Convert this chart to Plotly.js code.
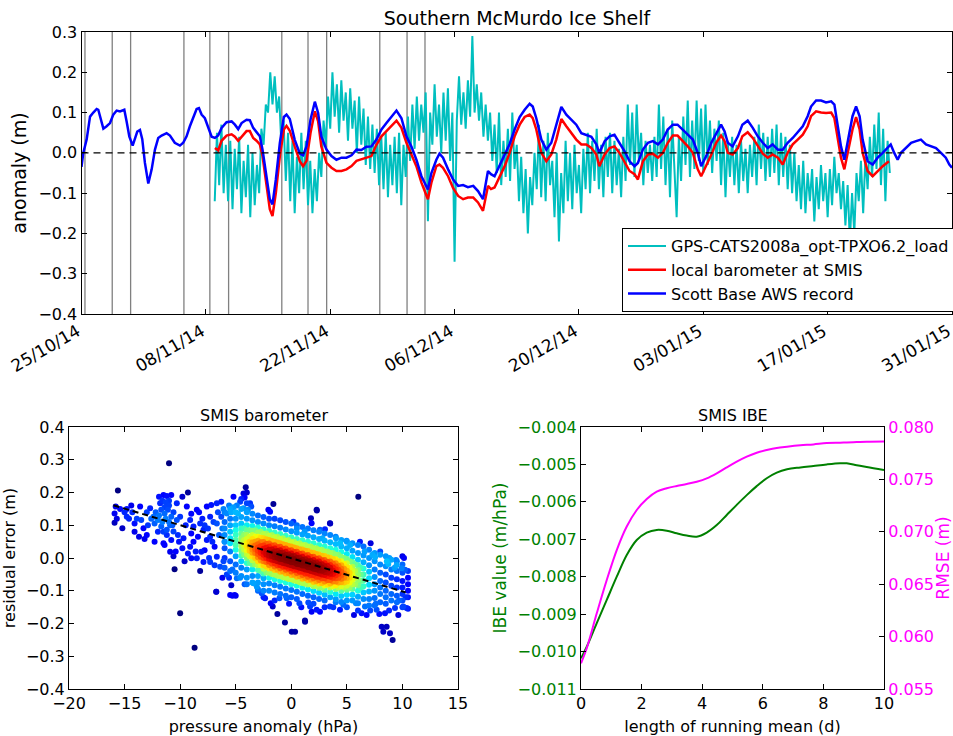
<!DOCTYPE html>
<html><head><meta charset="utf-8">
<script src="https://cdn.plot.ly/plotly-3.0.1.min.js"></script>
<style>html,body{margin:0;padding:0;background:#fff;overflow:hidden;}#chart{width:953px;height:736px;}</style>
</head><body><div id="chart"></div>
<script>
// ---------- top panel data (days after 25/10/2014) ----------
const startMs = Date.UTC(2014, 9, 25);
const dateTickDays = [0, 14, 28, 42, 56, 70, 84, 98];
const eventDays = [0.39, 3.46, 5.53, 11.53, 14.45, 16.56, 22.55, 25.5, 27.6, 33.58, 36.65, 38.67];

const blueDays = [0,0.2,0.58,0.96,1.33,1.71,1.89,2.16,2.46,2.83,3.21,3.58,3.96,4.33,4.82,5.08,5.38,5.76,6.02,6.28,6.58,6.84,7.14,7.52,7.9,8.27,8.64,9.02,9.58,9.96,10.5,11.08,11.45,11.83,12.2,12.58,12.96,13.22,13.52,13.89,14.26,14.65,15.02,15.39,15.77,16.33,16.9,17.27,17.64,18.02,18.58,18.95,19.33,19.7,20.08,20.38,20.83,21.2,21.5,21.88,22.33,22.78,23.08,23.45,24.0,24.58,24.95,25.33,25.78,26.27,26.64,27.0,27.58,28.14,28.7,29.27,29.83,30.4,30.96,31.5,32.08,32.64,33.2,33.77,34.33,34.9,35.46,36.02,36.58,37.14,37.7,38.27,39.0,39.39,39.95,40.3,40.7,41.27,41.83,42.4,42.96,43.5,44.1,44.64,45.2,45.76,46.1,46.5,47.08,47.64,48.2,48.76,49.33,49.89,50.45,50.8,51.2,51.77,52.33,52.89,53.45,54.02,54.58,55.14,55.7,56.27,56.83,57.4,57.96,58.3,58.9,59.45,60.0,60.57,61.14,61.7,62.26,62.64,63.2,63.77,64.32,64.9,65.45,66.0,66.57,67.1,67.7,68.26,68.82,69.38,69.76,70.33,70.9,71.45,72.0,72.4,72.76,73.3,73.9,74.4,75.0,75.57,76.13,76.7,77.26,77.8,78.4,78.94,79.5,80.07,80.63,81.2,81.75,82.13,82.7,83.26,83.82,84.4,84.76,85.13,85.5,85.88,86.25,86.8,87.2,87.6,87.94,88.5,89.07,89.63,90.2,90.75,91.1,91.5,91.88,92.25,92.8,93.4,93.95,94.5,95.07,95.6,96.2,96.76,97.3,97.7,98.0];
const blueVals = [-0.035,0.0,0.033,0.09,0.1,0.109,0.107,0.082,0.06,0.066,0.074,0.095,0.105,0.103,0.107,0.078,0.041,0.018,0.034,0.053,0.057,0.034,-0.025,-0.076,-0.041,0.008,0.037,0.043,0.049,0.043,0.025,0.018,0.025,0.041,0.066,0.089,0.109,0.111,0.095,0.086,0.062,0.04,0.037,0.043,0.062,0.076,0.078,0.07,0.059,0.074,0.082,0.081,0.062,0.053,0.041,0.008,-0.058,-0.115,-0.128,-0.066,0.025,0.089,0.095,0.084,0.033,-0.002,-0.006,0.016,0.082,0.127,0.099,0.041,0.008,-0.008,-0.017,-0.012,-0.012,-0.006,0.008,0.007,0.015,0.016,0.033,0.058,0.074,0.09,0.105,0.086,0.041,0.016,-0.017,-0.058,-0.091,-0.05,-0.017,-0.002,-0.012,-0.041,-0.066,-0.082,-0.08,-0.085,-0.082,-0.095,-0.115,-0.045,-0.053,-0.058,-0.031,-0.008,0.022,0.058,0.089,0.107,0.122,0.115,0.086,0.033,0.008,0.025,0.066,0.114,0.095,0.082,0.07,0.049,0.045,0.04,0.021,0.0,0.029,0.041,0.045,0.025,0.004,-0.021,-0.033,-0.025,0.008,0.025,0.029,0.021,0.033,0.058,0.07,0.07,0.058,0.045,0.033,0.0,-0.033,-0.008,0.025,0.049,0.07,0.053,0.025,0.016,0.041,0.07,0.08,0.062,0.041,0.025,0.012,0.021,0.008,0.008,0.025,0.037,0.051,0.066,0.091,0.115,0.13,0.13,0.125,0.128,0.12,0.066,0.016,-0.017,0.025,0.091,0.115,0.091,0.033,-0.021,-0.029,-0.012,0.0,0.012,0.021,0.0,-0.017,0.0,0.012,0.025,0.029,0.033,0.021,0.016,0.012,0.0,-0.012,-0.029,-0.037];

const redDays = [15.02,15.39,15.77,16.33,16.9,17.27,17.64,18.02,18.58,18.95,19.33,19.7,20.08,20.38,20.83,21.2,21.5,21.88,22.33,22.78,23.08,23.45,24.0,24.58,24.95,25.33,25.78,26.27,26.64,27.0,27.58,28.14,28.7,29.27,29.83,30.4,30.96,31.5,32.08,32.64,33.2,33.77,34.33,34.9,35.46,36.02,36.58,37.14,37.7,38.27,39.0,39.39,39.95,40.3,40.7,41.27,41.83,42.4,42.96,43.5,44.1,44.64,45.2,45.76,46.1,46.5,47.08,47.64,48.2,48.76,49.33,49.89,50.45,50.8,51.2,51.77,52.33,52.89,53.45,54.02,54.58,55.14,55.7,56.27,56.83,57.4,57.96,58.3,58.9,59.45,60.0,60.57,61.14,61.7,62.26,62.64,63.2,63.77,64.32,64.9,65.45,66.0,66.57,67.1,67.7,68.26,68.82,69.38,69.76,70.33,70.9,71.45,72.0,72.4,72.76,73.3,73.9,74.4,75.0,75.57,76.13,76.7,77.26,77.8,78.4,78.94,79.5,80.07,80.63,81.2,81.75,82.13,82.7,83.26,83.82,84.4,84.76,85.13,85.5,85.88,86.25,86.8,87.2,87.6,87.94,88.5,89.07,89.63,90.2,90.9];
const redVals = [0.012,0.006,0.03,0.043,0.046,0.04,0.03,0.04,0.054,0.054,0.037,0.03,0.021,-0.008,-0.082,-0.14,-0.157,-0.099,-0.008,0.058,0.067,0.055,0.016,-0.021,-0.033,-0.02,0.049,0.103,0.078,0.016,-0.025,-0.037,-0.045,-0.045,-0.041,-0.033,-0.02,-0.016,-0.012,-0.008,0.02,0.041,0.054,0.066,0.08,0.062,0.025,-0.004,-0.033,-0.074,-0.115,-0.074,-0.033,-0.029,-0.037,-0.058,-0.087,-0.107,-0.115,-0.111,-0.111,-0.123,-0.144,-0.082,-0.09,-0.086,-0.058,-0.033,0.0,0.041,0.07,0.089,0.095,0.086,0.058,0.0,-0.021,-0.004,0.033,0.084,0.066,0.049,0.033,0.021,0.021,0.012,-0.004,-0.033,-0.004,0.012,0.016,0.0,-0.021,-0.045,-0.053,-0.066,-0.021,-0.004,-0.002,-0.012,0.0,0.025,0.043,0.043,0.029,0.016,0.0,-0.041,-0.058,-0.033,-0.005,0.025,0.043,0.029,0.0,-0.004,0.012,0.041,0.051,0.037,0.016,-0.002,-0.012,-0.004,-0.012,-0.029,0.0,0.021,0.033,0.045,0.066,0.091,0.103,0.1,0.099,0.1,0.086,0.033,-0.012,-0.041,0.0,0.058,0.089,0.058,0.0,-0.045,-0.058,-0.045,-0.033,-0.021];

// GPS residual, sampled every 6 h from day 15 to day 91
const cyanStartDay = 15, cyanStepDay = 0.25;
const cyanVals = [
-0.12,0.05,-0.08,0.07, -0.10,0.02,-0.12,0.03, -0.14,0.01,-0.09,0.04, -0.15,-0.02,-0.11,0.02, -0.16,0.00,-0.13,-0.03,
-0.10,0.06,0.02,0.12, 0.10,0.20,0.12,0.19, 0.10,0.14,0.02,0.08, -0.07,0.05,-0.12,0.03, -0.15,-0.01,-0.10,0.05,
-0.09,0.03,-0.13,-0.02, -0.15,-0.04,-0.12,0.00, -0.06,0.08,0.02,0.14, 0.06,0.20,0.09,0.17, 0.05,0.18,0.08,0.15,
0.03,0.16,0.06,0.13, 0.00,0.14,0.02,0.11, -0.03,0.09,-0.04,0.07, -0.05,0.06,-0.08,0.04, -0.09,0.05,-0.11,0.02,
-0.08,0.04,-0.10,0.05, -0.13,0.02,-0.06,0.09, -0.02,0.12,0.01,0.14, 0.03,0.12,0.05,0.15, -0.17,0.10,0.02,0.17,
0.04,0.12,0.00,0.15, 0.03,0.16,-0.02,0.10, -0.27,0.08,0.19,0.07, 0.15,0.06,0.18,0.09, 0.29,0.10,0.17,0.08,
0.15,0.04,0.12,0.03, 0.10,-0.02,0.07,-0.05, 0.10,-0.08,0.03,-0.06, 0.06,-0.07,0.10,-0.04, 0.02,-0.12,-0.01,-0.15,
-0.04,-0.20,-0.06,-0.13, 0.00,-0.09,0.07,-0.11, 0.03,-0.12,0.05,-0.08, -0.02,-0.16,0.00,-0.22, -0.05,-0.15,0.03,-0.12,
0.00,-0.14,0.02,-0.10, -0.03,-0.15,0.01,-0.09, 0.05,-0.10,0.03,-0.07, 0.06,-0.09,0.02,-0.11, 0.04,-0.06,0.05,-0.10,
0.03,-0.08,0.01,-0.11, 0.04,-0.07,0.12,-0.03, 0.10,-0.06,0.12,-0.02, 0.05,-0.08,0.03,-0.05, 0.02,-0.07,0.04,-0.06,
0.12,-0.04,0.09,-0.08, 0.06,-0.11,0.08,-0.05, -0.16,0.04,-0.07,0.09, -0.03,0.13,-0.06,0.08, -0.04,0.13,-0.02,0.11,
-0.05,0.12,-0.03,0.08, -0.05,0.06,-0.02,0.08, -0.08,0.05,-0.11,0.03, -0.06,0.04,-0.08,0.02, -0.10,0.03,-0.07,0.01,
-0.10,0.02,-0.06,0.04, -0.08,0.07,-0.04,0.05, -0.07,0.04,-0.06,0.06, -0.05,0.07,-0.08,0.05, -0.06,0.04,-0.09,0.02,
-0.10,0.00,-0.12,-0.03, -0.14,-0.02,-0.15,-0.05, -0.12,-0.04,-0.17,-0.06, -0.14,-0.03,-0.12,-0.05, -0.16,-0.04,-0.13,-0.01,
-0.10,-0.05,-0.14,-0.07, -0.18,-0.08,-0.22,-0.10, -0.20,-0.05,-0.12,-0.02, -0.15,-0.01,-0.09,0.04, -0.06,0.07,-0.04,0.10,
-0.08,0.06,-0.12,0.03, -0.05];

// ---------- bottom-left scatter (pressure anomaly hPa, residual m) ----------
const sparsePts = [
[-15.9,0.136],[-15.8,0.157],[-15.9,0.108],[-15.6,0.206],[-15.2,0.091],[-14.8,0.126],[-14.4,0.16],[-14.3,0.14],[-14.1,0.105],[-14.1,0.08],
[-13.7,0.065],[-13.6,0.157],[-13.3,0.091],[-13.2,0.058],[-13.5,0.116],[-12.7,0.152],[-12.4,0.126],[-12.3,0.105],[-11.9,0.187],[-11.8,0.167],
[-11.5,0.192],[-11.2,0.189],[-10.8,0.192],[-11.7,0.147],[-11.4,0.136],[-11.1,0.147],[-10.8,0.126],[-12.0,0.116],[-11.7,0.096],[-11.2,0.086],
[-10.9,0.1],[-10.6,0.081],[-11.5,0.045],[-10.8,0.055],[-10.2,0.07],[-10.3,0.116],[-10.0,0.126],[-10.3,0.167],[-9.8,0.187],[-9.3,0.2],
[-10.9,0.019],[-10.5,-0.034],[-10.0,-0.169],[-8.7,-0.274],[-11.0,0.289],[-9.4,0.157],[-9.1,0.116],[-8.8,0.096],[-9.0,0.075],[-8.5,0.147],
[-8.2,0.105],[-8.4,0.065],[-7.9,0.086],[-9.3,0.014],[-9.0,-0.001],[-8.5,-0.001],[-9.1,0.034],[-8.1,0.019],[-7.8,0.024],[-7.6,0.055],
[-7.3,0.065],[-6.9,0.034],[-7.6,0.157],[-7.2,0.162],[-6.7,0.167],[-6.3,0.172],[-7.3,0.126],[-6.7,0.105],[-6.3,0.126],[-5.8,0.136],
[-6.7,0.004],[-6.9,-0.022],[-7.3,-0.012],[-6.4,-0.027],[-7.9,-0.012],[-6.75,-0.103],[-5.5,-0.113],[-5.1,-0.113],[-5.4,-0.083],[-4.9,-0.062],
[-5.2,0.187],[-4.1,0.216],[-4.3,0.197],[-4.6,0.172],[-4.0,0.167],[-3.9,0.147],[-3.6,0.157],[-4.3,0.152],[-4.8,0.136],
[-11.6,0.175],[-11.3,0.17],[-11.0,0.175],[-11.4,0.155],[-11.0,0.16],[-11.3,0.12],[-11.0,0.11],[-11.6,0.11],[-11.9,0.13],[-10.6,0.14],
[-10.7,0.1],[-11.2,0.07],[-11.5,0.08],[-12.2,0.14],[-12.6,0.12],[-13.0,0.14],[-14.6,0.12],[-15.0,0.14],[-14.8,0.15],[-15.4,0.15],
[-15.7,0.12],[-13.9,0.12],[-12.9,0.1],[-12.0,0.08],[-11.4,0.04],[-10.4,0.02],[-9.7,0.06],[-9.5,0.1],[-9.0,0.135],[-8.8,0.05],
[-8.6,0.02],[-8.0,0.12],[-8.3,0.14],[-7.8,0.1],[-7.5,0.09],[-7.0,0.11],[-7.1,0.05],[-6.5,0.07],[-6.2,0.09],[-6.0,0.05],
[-6.6,0.14],[-6.1,0.15],[-5.6,0.16],[-5.4,0.14],[-5.2,0.155],[-4.9,0.16],[-4.5,0.18],[-4.2,0.185],[-4.0,0.2],[-8.2,-0.04],
[-9.6,-0.01],[-7.4,0.0],[-6.1,-0.01],[-5.8,-0.05],[-5.6,-0.06],[-6.2,-0.06],[-5.3,-0.035],[-10.6,0.005],[-12.3,0.05],[-13.0,0.07],
[-10.1,0.05],[-9.8,0.03],
[6.03,0.187],[2.28,0.147],[1.77,0.121],[1.83,0.106],[3.48,0.106],[-3.71,0.167],[-1.61,0.165],[-1.91,0.141],[-2.06,0.147],[0.19,0.111],
[2.58,0.086],[3.03,0.088],[4.02,0.06],[4.98,0.053],[6.18,0.05],[7.14,0.045],[7.54,0.002],[8.82,0.0],[9.42,-0.006],[10.14,0.0],
[9.93,-0.031],[10.23,-0.036],[10.08,-0.148],[10.38,-0.153],[9.63,-0.174],[9.12,-0.25],[8.88,-0.23],[8.58,-0.21],[8.28,-0.225],[8.13,-0.21],
[7.92,-0.171],[8.43,-0.169],[6.78,-0.174],[6.33,-0.169],[5.64,-0.174],[4.38,-0.158],[3.78,-0.15],[2.58,-0.164],[2.28,-0.158],[1.83,-0.164],
[1.53,-0.136],[1.23,-0.191],[0.34,-0.225],[0.04,-0.225],[-0.57,-0.197],[-1.25,-0.171],[-1.67,-0.148],[-1.85,-0.138],[-2.36,-0.123],[-2.66,-0.108],
[-3.11,-0.087],[-3.41,-0.077],[-1.07,-0.123],[-0.41,-0.123],[0.73,-0.138],[1.69,-0.148],[3.48,-0.148],[4.68,-0.143],[5.82,-0.138],[6.63,-0.148],
[7.68,-0.158],[9.33,-0.153],[9.48,-0.021],[8.73,-0.018],[-6.75,-0.103],[-5.3,-0.115],[-5.0,-0.115],[1.24,-0.195],[2.3,0.145],[3.5,0.105],
[0.5,0.09],[1.2,0.08],[2.8,0.06],[4.4,0.045],[5.3,0.04],[6.6,0.02],[7.3,0.01],[8.0,0.02],[8.6,-0.01],[9.3,-0.03],
[-2.5,-0.12],[-1.5,-0.13],[-0.2,-0.14],[0.9,-0.15],[2.0,-0.14],[3.0,-0.15],[4.0,-0.135],[5.0,-0.15],[6.0,-0.16],[7.1,-0.16],
[7.6,-0.14],[8.8,-0.16],[9.7,-0.13],[10.3,-0.12],[-3.0,-0.1],[-4.2,-0.08],[-4.6,-0.06]];

// dense core, read as columns of points along the pressure axis
const coreColX = [-6,-5.5,-5,-4.5,-4,-3.5,-3,-2.5,-2,-1.5,-1,-0.5,0,0.5,1,1.5,2,2.5,3,3.5,4,4.5,5,5.5,6,6.5,7,7.5,8,8.5,9,9.5,10,10.5];
const coreColY = [
[0.14,0.11,0.09,0.07,0.05,0.03,0.0,-0.03],
[0.15,0.12,0.10,0.08,0.06,0.045,0.02,-0.01,-0.04],
[0.14,0.12,0.10,0.085,0.07,0.055,0.04,0.025,0.005,-0.02,-0.045],
[0.15,0.125,0.105,0.09,0.075,0.06,0.048,0.036,0.022,0.008,-0.01,-0.03,-0.055],
[0.14,0.12,0.10,0.085,0.07,0.058,0.046,0.035,0.024,0.012,0.0,-0.015,-0.035,-0.06,-0.08],
[0.135,0.115,0.098,0.083,0.07,0.058,0.047,0.036,0.026,0.016,0.005,-0.007,-0.02,-0.035,-0.055,-0.075],
[0.13,0.11,0.093,0.078,0.065,0.053,0.042,0.032,0.022,0.012,0.002,-0.01,-0.022,-0.037,-0.055,-0.075,-0.095],
[0.125,0.105,0.088,0.073,0.06,0.049,0.038,0.028,0.019,0.01,0.0,-0.01,-0.021,-0.033,-0.047,-0.062,-0.08,-0.1],
[0.12,0.1,0.083,0.068,0.055,0.044,0.034,0.025,0.016,0.007,-0.002,-0.011,-0.021,-0.032,-0.045,-0.06,-0.078,-0.1],
[0.12,0.097,0.078,0.063,0.05,0.039,0.029,0.02,0.011,0.002,-0.007,-0.016,-0.026,-0.037,-0.05,-0.065,-0.083,-0.105],
[0.115,0.092,0.073,0.058,0.045,0.034,0.024,0.015,0.006,-0.003,-0.012,-0.021,-0.031,-0.042,-0.055,-0.07,-0.088,-0.11],
[0.11,0.087,0.068,0.053,0.04,0.029,0.019,0.01,0.001,-0.008,-0.017,-0.026,-0.036,-0.047,-0.06,-0.075,-0.093,-0.115],
[0.105,0.082,0.063,0.048,0.035,0.024,0.014,0.005,-0.004,-0.013,-0.022,-0.031,-0.041,-0.052,-0.065,-0.08,-0.098,-0.12],
[0.1,0.077,0.058,0.043,0.03,0.019,0.009,0.0,-0.009,-0.018,-0.027,-0.036,-0.046,-0.057,-0.07,-0.085,-0.103,-0.125],
[0.095,0.072,0.054,0.039,0.026,0.014,0.004,-0.005,-0.014,-0.023,-0.032,-0.042,-0.052,-0.063,-0.076,-0.091,-0.11],
[0.09,0.068,0.05,0.035,0.021,0.009,-0.001,-0.01,-0.019,-0.028,-0.037,-0.047,-0.057,-0.068,-0.081,-0.096,-0.115],
[0.085,0.063,0.045,0.03,0.016,0.004,-0.006,-0.015,-0.024,-0.033,-0.042,-0.052,-0.062,-0.073,-0.086,-0.101,-0.12],
[0.08,0.058,0.04,0.025,0.011,-0.001,-0.011,-0.02,-0.029,-0.038,-0.047,-0.057,-0.067,-0.078,-0.091,-0.106,-0.125],
[0.075,0.053,0.035,0.02,0.006,-0.006,-0.016,-0.025,-0.034,-0.043,-0.052,-0.062,-0.072,-0.084,-0.097,-0.112,-0.13],
[0.07,0.048,0.03,0.015,0.001,-0.011,-0.021,-0.03,-0.039,-0.048,-0.057,-0.067,-0.078,-0.09,-0.104,-0.12],
[0.065,0.043,0.025,0.01,-0.004,-0.016,-0.026,-0.035,-0.044,-0.053,-0.062,-0.072,-0.083,-0.095,-0.11,-0.126],
[0.055,0.035,0.018,0.003,-0.01,-0.022,-0.033,-0.043,-0.053,-0.063,-0.074,-0.086,-0.1,-0.116,-0.134],
[0.05,0.03,0.012,-0.003,-0.016,-0.028,-0.039,-0.05,-0.061,-0.072,-0.084,-0.097,-0.112,-0.13],
[0.045,0.022,0.003,-0.013,-0.027,-0.04,-0.053,-0.066,-0.08,-0.095,-0.112,-0.13],
[0.04,0.015,-0.005,-0.022,-0.037,-0.052,-0.067,-0.083,-0.1,-0.118,-0.138],
[0.035,0.008,-0.013,-0.032,-0.05,-0.068,-0.086,-0.105,-0.125],
[0.025,0.0,-0.022,-0.042,-0.062,-0.082,-0.102,-0.125,-0.145],
[0.015,-0.01,-0.035,-0.058,-0.08,-0.1,-0.122,-0.145],
[0.01,-0.02,-0.045,-0.07,-0.09,-0.11,-0.135],
[0.005,-0.025,-0.05,-0.075,-0.1,-0.12,-0.14],
[-0.005,-0.035,-0.06,-0.085,-0.11,-0.13],
[-0.01,-0.04,-0.065,-0.09,-0.115,-0.135],
[0.005,-0.02,-0.045,-0.07,-0.09,-0.11,-0.13,-0.15],
[-0.04,-0.06,-0.08,-0.1,-0.12,-0.155]];

// inner core, between the columns above, where the points pile up
const innerColX = [-4.25,-3.75,-3.25,-2.75,-2.25,-1.75,-1.25,-0.75,-0.25,0.25,0.75,1.25,1.75,2.25,2.75,3.25,3.75,4.25,4.75,5.25,5.75,6.25];
const innerColY = [
[0.09,0.07,0.055,0.04,0.025,0.01],
[0.085,0.065,0.05,0.037,0.022,0.005,-0.015],
[0.085,0.065,0.05,0.038,0.027,0.015,0.0,-0.02],
[0.08,0.062,0.048,0.036,0.025,0.015,0.004,-0.008,-0.022,-0.04],
[0.075,0.057,0.043,0.031,0.021,0.011,0.0,-0.012,-0.026,-0.044],
[0.07,0.052,0.038,0.026,0.016,0.006,-0.005,-0.017,-0.031,-0.049],
[0.065,0.047,0.033,0.021,0.011,0.001,-0.01,-0.022,-0.036,-0.054],
[0.06,0.042,0.028,0.016,0.006,-0.004,-0.015,-0.027,-0.041,-0.059],
[0.055,0.037,0.023,0.011,0.001,-0.009,-0.02,-0.032,-0.046,-0.064],
[0.05,0.032,0.018,0.006,-0.004,-0.014,-0.025,-0.037,-0.051,-0.069],
[0.045,0.027,0.013,0.001,-0.009,-0.019,-0.03,-0.042,-0.056,-0.074],
[0.04,0.022,0.008,-0.004,-0.014,-0.024,-0.035,-0.047,-0.061,-0.079],
[0.035,0.017,0.003,-0.009,-0.019,-0.029,-0.04,-0.052,-0.066,-0.08],
[0.03,0.012,-0.002,-0.014,-0.024,-0.034,-0.045,-0.057,-0.071,-0.085],
[0.025,0.007,-0.007,-0.019,-0.029,-0.039,-0.05,-0.062,-0.076,-0.09],
[0.02,0.002,-0.012,-0.024,-0.034,-0.044,-0.055,-0.067,-0.081],
[0.015,-0.003,-0.017,-0.029,-0.039,-0.049,-0.06,-0.072,-0.086],
[0.01,-0.01,-0.024,-0.036,-0.048,-0.06,-0.075,-0.09],
[0.0,-0.018,-0.033,-0.047,-0.06,-0.075,-0.09],
[-0.01,-0.03,-0.045,-0.06,-0.075,-0.09],
[-0.02,-0.04,-0.06,-0.08],
[-0.03,-0.05,-0.07,-0.09]];

const fitX = [-16, 10.3];
const fitY = [0.161, -0.105];

// ---------- bottom-right IBE ----------
const meanLenDays = [0,0.19,0.52,0.85,1.18,1.51,1.84,2.17,2.5,2.83,3.16,3.49,3.82,4.15,4.48,4.81,5.14,5.47,5.8,6.13,6.46,6.8,7.24,7.67,8.11,8.55,8.77,9.1,9.43,10];
const ibeVals = [-0.01018,-0.00987,-0.00924,-0.00862,-0.0080,-0.00742,-0.00702,-0.00682,-0.00675,-0.00677,-0.00684,-0.0069,-0.00693,-0.00682,-0.00662,-0.00635,-0.00608,-0.00582,-0.00558,-0.00537,-0.00522,-0.00513,-0.00508,-0.00504,-0.0050,-0.00497,-0.00497,-0.00502,-0.00507,-0.00515];
const rmseVals = [0.05745,0.0589,0.06222,0.0654,0.06826,0.0705,0.07208,0.07313,0.07383,0.07415,0.07437,0.07456,0.07478,0.0751,0.07558,0.07615,0.07669,0.07717,0.07755,0.0778,0.0780,0.07812,0.07825,0.07834,0.07847,0.0785,0.07852,0.07856,0.0786,0.07862];

// matplotlib "jet" colormap
const jetScale = [[0,'rgb(0,0,128)'],[0.11,'rgb(0,0,255)'],[0.125,'rgb(0,0,255)'],[0.34,'rgb(0,219,255)'],[0.35,'rgb(0,230,247)'],[0.375,'rgb(21,255,226)'],[0.64,'rgb(239,255,8)'],[0.65,'rgb(247,246,0)'],[0.66,'rgb(255,236,0)'],[0.89,'rgb(255,19,0)'],[0.91,'rgb(232,0,0)'],[1,'rgb(128,0,0)']];

// ---------- helpers ----------
function dayToDate(d){ return new Date(startMs + d*864e5).toISOString().replace('T',' ').replace('Z',''); }
function dayLabel(d){ const t=new Date(startMs+d*864e5); return String(t.getUTCDate()).padStart(2,'0')+'/'+String(t.getUTCMonth()+1).padStart(2,'0')+'/'+String(t.getUTCFullYear()%100).padStart(2,'0'); }
const cyanDates = cyanVals.map((v,i)=>dayToDate(cyanStartDay + i*cyanStepDay));

let pts = sparsePts.slice();
coreColX.forEach((x,i)=>coreColY[i].forEach(y=>pts.push([x,y])));
innerColX.forEach((x,i)=>innerColY[i].forEach(y=>pts.push([x,y])));
// gaussian KDE for colouring (narrowed Scott bandwidth), densest drawn last
(function(){
  const n = pts.length;
  let mx=0,my=0; pts.forEach(p=>{mx+=p[0];my+=p[1];}); mx/=n; my/=n;
  let sxx=0,syy=0,sxy=0; pts.forEach(p=>{const dx=p[0]-mx,dy=p[1]-my;sxx+=dx*dx;syy+=dy*dy;sxy+=dx*dy;});
  sxx/=(n-1); syy/=(n-1); sxy/=(n-1);
  const f = 0.6*Math.pow(n,-1/6), f2=f*f;
  const a=sxx*f2,b=sxy*f2,c=syy*f2, det=a*c-b*b;
  const ia=c/det, ib=-b/det, ic=a/det;
  pts.forEach(p=>{let s=0; for(const q of pts){const dx=p[0]-q[0],dy=p[1]-q[1]; s+=Math.exp(-0.5*(ia*dx*dx+2*ib*dx*dy+ic*dy*dy));} p[2]=s;});
  pts.sort((u,v)=>u[2]-v[2]);
})();

const font = 'DejaVu Sans, Bitstream Vera Sans, sans-serif';
const traces = [
 {x:cyanDates, y:cyanVals, type:'scatter', mode:'lines', name:'GPS-CATS2008a_opt-TPXO6.2_load', line:{color:'#00BFBF', width:2}, xaxis:'x', yaxis:'y'},
 {x:redDays.map(dayToDate), y:redVals, type:'scatter', mode:'lines', name:'local barometer at SMIS', line:{color:'#FF0000', width:2.5}, xaxis:'x', yaxis:'y'},
 {x:blueDays.map(dayToDate), y:blueVals, type:'scatter', mode:'lines', name:'Scott Base AWS record', line:{color:'#0000FF', width:2.5}, xaxis:'x', yaxis:'y'},
 {x:pts.map(p=>p[0]), y:pts.map(p=>p[1]), type:'scatter', mode:'markers', showlegend:false, xaxis:'x2', yaxis:'y2',
  marker:{size:6, color:pts.map(p=>p[2]), colorscale:jetScale, showscale:false, line:{width:0}}},
 {x:fitX, y:fitY, type:'scatter', mode:'lines', showlegend:false, xaxis:'x2', yaxis:'y2', line:{color:'#000', width:2, dash:'6px,4px'}},
 {x:meanLenDays, y:ibeVals, type:'scatter', mode:'lines', showlegend:false, xaxis:'x3', yaxis:'y3', line:{color:'#008000', width:2, shape:'spline'}},
 {x:meanLenDays, y:rmseVals, type:'scatter', mode:'lines', showlegend:false, xaxis:'x3', yaxis:'y4', line:{color:'#FF00FF', width:2, shape:'spline'}}
];

const W=953,H=736;
const px = v=>v/W, py = v=>1-v/H;
const axBase = {showline:true, linecolor:'#000', linewidth:1, ticks:'inside', ticklen:5, tickcolor:'#000', showgrid:false, zeroline:false, mirror:'ticks', automargin:false};

const shapes = eventDays.map(d=>({type:'line', xref:'x', yref:'y domain', x0:dayToDate(d), x1:dayToDate(d), y0:0, y1:1, line:{color:'#808080', width:1.3}, layer:'below'}));
shapes.push({type:'line', xref:'x', yref:'y', x0:dayToDate(0), x1:dayToDate(98), y0:0, y1:0, line:{color:'#000', width:1.3, dash:'7px,5px'}, layer:'above'});

const layout = {
 width:W, height:H, margin:{l:0,r:0,t:0,b:0,autoexpand:false}, paper_bgcolor:'#fff', plot_bgcolor:'#fff',
 font:{family:font, size:16, color:'#000'}, showlegend:true,
 title:{text:'Southern McMurdo Ice Shelf', font:{size:19}, x:px(517), xanchor:'center', y:py(18), yanchor:'middle', xref:'paper', yref:'paper'},
 legend:{x:px(622), y:py(228), xanchor:'left', yanchor:'top', bgcolor:'#fff', bordercolor:'#000', borderwidth:1, font:{size:16}, itemwidth:38, tracegroupgap:0},
 xaxis:Object.assign({}, axBase, {domain:[px(81.5), px(952)], type:'date', range:[dayToDate(0), dayToDate(98)], tickmode:'array', tickvals:dateTickDays.map(dayToDate), ticktext:dateTickDays.map(dayLabel), tickangle:-30, tickfont:{size:17}, ticklabeloverflow:'allow', ticklabelshift:-4, anchor:'y'}),
 yaxis:Object.assign({}, axBase, {domain:[py(314), py(32)], range:[-0.4,0.3], dtick:0.1, tick0:0, tickformat:'.1f', tickfont:{size:16}, title:{text:'anomaly (m)', font:{size:19}, standoff:6}, anchor:'x'}),
 xaxis2:Object.assign({}, axBase, {domain:[px(69), px(458)], range:[-20,15], dtick:5, tick0:0, tickfont:{size:16}, title:{text:'pressure anomaly (hPa)', font:{size:16}, standoff:8}, anchor:'y2'}),
 yaxis2:Object.assign({}, axBase, {domain:[py(689), py(427)], range:[-0.4,0.4], dtick:0.1, tick0:0, tickformat:'.1f', tickfont:{size:16}, title:{text:'residual error (m)', font:{size:16}, standoff:6}, anchor:'x2'}),
 xaxis3:Object.assign({}, axBase, {domain:[px(581), px(884)], range:[0,10], dtick:2, tick0:0, tickfont:{size:16}, title:{text:'length of running mean (d)', font:{size:16}, standoff:8}, anchor:'y3'}),
 yaxis3:Object.assign({}, axBase, {mirror:false, domain:[py(689), py(427)], range:[-0.011,-0.004], dtick:0.001, tick0:0, tickformat:'.3f', tickfont:{size:16, color:'#008000'}, title:{text:'IBE value (m/hPa)', font:{size:17, color:'#008000'}, standoff:6}, anchor:'x3'}),
 yaxis4:Object.assign({}, axBase, {mirror:false, overlaying:'y3', side:'right', range:[0.055,0.080], dtick:0.005, tick0:0, tickformat:'.3f', tickfont:{size:16, color:'#FF00FF'}, title:{text:'RMSE (m)', font:{size:17, color:'#FF00FF'}, standoff:6}, anchor:'x3'}),
 shapes:shapes,
 annotations:[
  {text:'SMIS barometer', xref:'paper', yref:'paper', x:px(263.5), y:py(415), xanchor:'center', yanchor:'middle', showarrow:false, font:{size:16}},
  {text:'SMIS IBE', xref:'paper', yref:'paper', x:px(732.5), y:py(415), xanchor:'center', yanchor:'middle', showarrow:false, font:{size:16}}
 ]
};
Plotly.newPlot('chart', traces, layout, {displayModeBar:false, staticPlot:true});
</script></body></html>
